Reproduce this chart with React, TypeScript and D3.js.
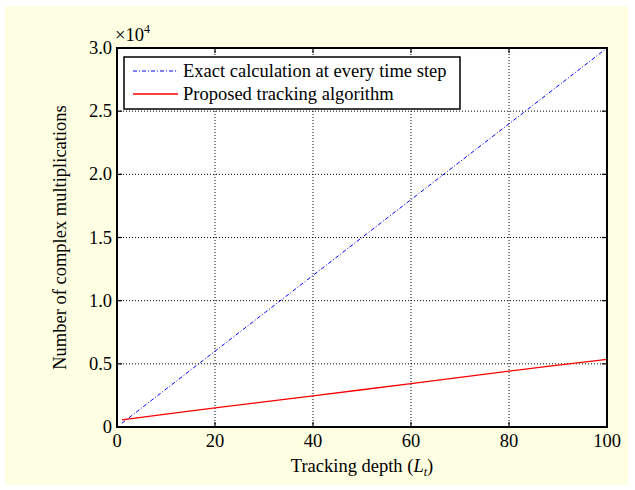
import React from "react";
import * as d3 from "d3";

const depthL = [1, 10, 20, 30, 40, 50, 60, 70, 80, 90, 100];
const exactCalc = [300, 3000, 6000, 9000, 12000, 15000, 18000, 21000, 24000, 27000, 30000];
const proposedTracking = [560, 1020, 1510, 1990, 2460, 2950, 3440, 3930, 4420, 4900, 5350];
const xTicks = [0, 20, 40, 60, 80, 100];
const yTicks = [0, 5000, 10000, 15000, 20000, 25000, 30000];
const yTickLabels = ["0", "0.5", "1.0", "1.5", "2.0", "2.5", "3.0"];
const legendLabels = ["Exact calculation at every time step", "Proposed tracking algorithm"];

export default function App() {
  const W = 635, H = 490;
  const left = 117, right = 607, top = 48, bottom = 427;
  const x = d3.scaleLinear().domain([0, 100]).range([left, right]);
  const y = d3.scaleLinear().domain([0, 30000]).range([bottom, top]);
  const line = d3.line<number>().x((_, i) => x(depthL[i])).y((d) => y(d));
  const font = "'Liberation Serif', 'Times New Roman', serif";
  const fs = 18.5;
  return (
    <svg width={W} height={H} style={{ position: "absolute", left: 0, top: 0 }} fontFamily={font}>
      <rect x={0} y={0} width={W} height={H} fill="#fff" />
      <rect x={5} y={6} width={623} height={479} fill="#fefee2" />
      <rect x={left} y={top} width={right - left} height={bottom - top} fill="#fff" />
      {xTicks.slice(1, -1).map((t) => (
        <line key={"gx" + t} x1={x(t)} x2={x(t)} y1={top} y2={bottom} stroke="#000" strokeWidth={1} strokeDasharray="1,2" />
      ))}
      {yTicks.slice(1, -1).map((t) => (
        <line key={"gy" + t} x1={left} x2={right} y1={y(t)} y2={y(t)} stroke="#000" strokeWidth={1} strokeDasharray="1,2" />
      ))}
      {xTicks.map((t) => (
        <g key={"tx" + t}>
          <line x1={x(t)} x2={x(t)} y1={bottom} y2={bottom - 5} stroke="#000" strokeWidth={1.2} />
          <line x1={x(t)} x2={x(t)} y1={top} y2={top + 5} stroke="#000" strokeWidth={1.2} />
          <text x={x(t)} y={bottom + 20} textAnchor="middle" fontSize={fs} fill="#000">{t}</text>
        </g>
      ))}
      {yTicks.map((t, i) => (
        <g key={"ty" + t}>
          <line x1={left} x2={left + 5} y1={y(t)} y2={y(t)} stroke="#000" strokeWidth={1.2} />
          <line x1={right} x2={right - 5} y1={y(t)} y2={y(t)} stroke="#000" strokeWidth={1.2} />
          <text x={left - 5} y={y(t) + 6} textAnchor="end" fontSize={fs} fill="#000">{yTickLabels[i]}</text>
        </g>
      ))}
      <path d={line(exactCalc) || ""} fill="none" stroke="#0000ff" strokeWidth={1} strokeDasharray="4,2,1,2" />
      <path d={line(proposedTracking) || ""} fill="none" stroke="#ff0000" strokeWidth={1.3} />
      <rect x={left} y={top} width={right - left} height={bottom - top} fill="none" stroke="#000" strokeWidth={2} />
      <rect x={124} y={57} width={336} height={52} fill="#fff" stroke="#000" strokeWidth={1.5} />
      <line x1={133} x2={178} y1={71} y2={71} stroke="#0000ff" strokeWidth={1} strokeDasharray="4,2,1,2" />
      <text x={183} y={77} fontSize={fs} fill="#000">{legendLabels[0]}</text>
      <line x1={133} x2={178} y1={94} y2={94} stroke="#ff0000" strokeWidth={1.3} />
      <text x={183} y={100} fontSize={fs} fill="#000">{legendLabels[1]}</text>
      <text x={115} y={41} fontSize={fs} fill="#000">×10<tspan fontSize={12} dy={-8}>4</tspan></text>
      <text x={362} y={472} textAnchor="middle" fontSize={fs} fill="#000">
        Tracking depth (<tspan fontStyle="italic">L</tspan><tspan fontStyle="italic" fontSize={12} dy={4}>t</tspan><tspan dy={-4}>)</tspan>
      </text>
      <text transform={`translate(66,${(top + bottom) / 2}) rotate(-90)`} textAnchor="middle" fontSize={fs} fill="#000">
        Number of complex multiplications
      </text>
    </svg>
  );
}
